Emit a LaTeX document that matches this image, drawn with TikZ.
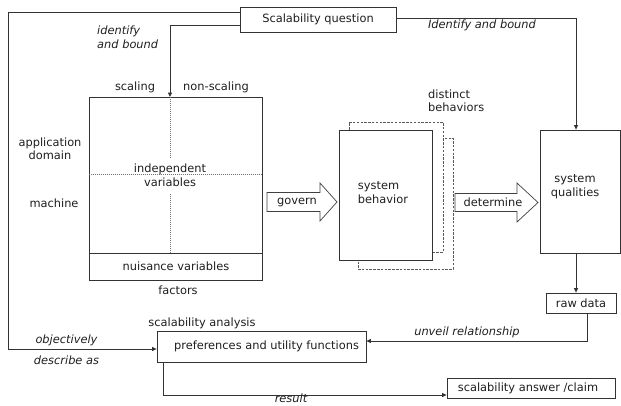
\documentclass[tikz,border=0pt]{standalone}
\usepackage{fontspec}
\setmainfont{DejaVu Sans}
\usetikzlibrary{arrows.meta}
\begin{document}
\begin{tikzpicture}[x=1pt,y=-1pt,
  every node/.style={font=\fontsize{11.4}{13.5}\selectfont, text=black!88, inner sep=0pt},
  box/.style={draw=black!80, line width=0.8pt, fill=white, rectangle},
  dbox/.style={draw=black!65, line width=0.7pt, dashed, dash pattern=on 2.5pt off 1.3pt, fill=white, rectangle},
  conn/.style={draw=black!80, line width=0.8pt},
  arr/.style={conn, -{Triangle[length=4.5pt,width=4pt]}},
  dotline/.style={draw=black!55, line width=0.7pt, dash pattern=on 1pt off 1pt},
  it/.style={font=\fontsize{11.4}{13.5}\selectfont\itshape},
  blockarrow/.style={draw=black!75, line width=0.7pt, fill=white},
]
\useasboundingbox (0,0) rectangle (621,405);

% Scalability question
\node[box, minimum width=156, minimum height=25] (q) at (318,19.5) {Scalability question};

% factors box
\node[box, minimum width=173, minimum height=183] (fac) at (175.5,188.5) {};
\coordinate (split) at (170,97);
\coordinate (nl) at (0,253);
\coordinate (hl) at (0,174);
\draw[conn] (fac.west |- nl) -- (fac.east |- nl);
\draw[dotline] (fac.west |- hl) -- (fac.east |- hl);
\draw[dotline] (split) -- (170,158);
\draw[dotline] (170,194) -- (170,253);
\node (indep) at (170,175) [align=center] {independent\\variables};
\node (nuis) at (176,266) {nuisance variables};
\node (factors) at (178,290) {factors};
\node (scaling) at (135,87) {scaling};
\node (nonscaling) at (216,87) {non-scaling};
\node (appdom) at (50,148.5) [align=center] {application\\domain};
\node (machine) at (54,203) {machine};

% system behavior
\node[dbox, minimum width=95, minimum height=131] (sb2) at (405.5,203.5) {};
\node[dbox, minimum width=94, minimum height=130] (sb1) at (396,187) {};
\node[box, minimum width=93, minimum height=130] (sb) at (385.5,195) {};
\node (sbt) at (383,192.5) [align=left] {system\\behavior};
\node (distinct) at (428,100.5) [anchor=west, align=left] {distinct\\behaviors};

% block arrows
\draw[blockarrow] (267,192.5) -- (320,192.5) -- (320,183) -- (337,202) -- (320,221) -- (320,211.5) -- (267,211.5) -- cycle;
\node (govern) at (297,202) {govern};
\draw[blockarrow] (455,193.5) -- (517,193.5) -- (517,183) -- (538,202.5) -- (517,222) -- (517,211.5) -- (455,211.5) -- cycle;
\node (determine) at (493,202) {determine};

% system qualities
\node[box, minimum width=80, minimum height=123] (qual) at (580,191.5) {};
\node (qualt) at (575,186.5) [align=center] {system\\qualities};

% raw data
\node[box, minimum width=70, minimum height=20] (raw) at (581,303) {raw data};

% preferences
\node[box, minimum width=209, minimum height=31] (pref) at (261.5,346.5) {};
\node (preft) at (266.5,346) {preferences and utility functions};
\node (sana) at (202,323) {scalability analysis};

% answer
\node[box, minimum width=168, minimum height=20] (ans) at (531,388) {};
\node (anst) at (528,388) {scalability answer /claim};

% connectors
\coordinate (lc) at (8,349);
\draw[arr] ([yshift=6.8pt]q.west) -| (lc) -- (pref.west |- lc);
\draw[arr] ([yshift=-5.5pt]q.west) -| (split);
\draw[arr] ([yshift=1.5pt]q.east) -| ([xshift=-4pt]qual.north);
\draw[arr] ([xshift=-4pt]qual.south) -- ([xshift=-5pt]raw.north);
\draw[arr] ([xshift=6pt]raw.south) |- ([yshift=5.5pt]pref.east);
\draw[arr] ([xshift=-98.5pt]pref.south) |- ([yshift=-7pt]ans.west);

% connector labels
\node[it] (lid1) at (97,37) [anchor=west, align=left] {identify\\and bound};
\node[it] (lid2) at (482,25) {Identify and bound};
\node[it] (lobj) at (66.5,340) {objectively};
\node[it] (ldesc) at (66.5,360) {describe as};
\node[it] (lunv) at (467,332) {unveil relationship};
\node[it] (lres) at (291,398.5) {result};
\end{tikzpicture}
\end{document}
